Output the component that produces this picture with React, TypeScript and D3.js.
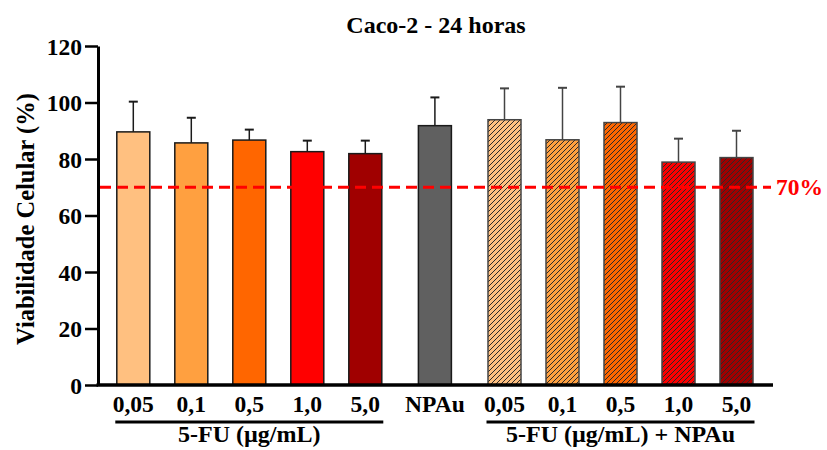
import React, { useEffect, useRef } from "react";
import * as d3 from "d3";

const labels = ["0,05", "0,1", "0,5", "1,0", "5,0", "NPAu", "0,05", "0,1", "0,5", "1,0", "5,0"];
const means = [89.6, 85.7, 86.7, 82.6, 81.9, 91.8, 93.9, 86.8, 92.9, 78.9, 80.5];
const sds = [10.7, 8.9, 3.7, 3.9, 4.6, 10.0, 11.1, 18.4, 12.7, 8.3, 9.5];
const colors = ["#ffc080", "#ffa040", "#ff6600", "#ff0000", "#a00000", "#606060", "#ffc080", "#ffa040", "#ff6600", "#ff0000", "#a00000"];
const hatched = [false, false, false, false, false, false, true, true, true, true, true];
const yTicks = [0, 20, 40, 60, 80, 100, 120];
const groups = [
  { name: "5-FU (µg/mL)", from: 0, to: 4 },
  { name: "5-FU (µg/mL) + NPAu", from: 6, to: 10 },
];
const threshold = 70;

const FONT = "Liberation Serif, Times New Roman, serif";

const App = () => {
  const svgRef = useRef(null);

  useEffect(() => {
    const svg = d3.select(svgRef.current);
    svg.selectAll("*").remove();

    const left = 98;
    const right = 773;
    const top = 46;
    const bottom = 385;
    const barW = 33;

    // slot index with extra gaps around the NPAu bar
    const slot = (i) => i + (i >= 5 ? 0.2 : 0) + (i >= 6 ? 0.2 : 0);
    const x = d3.scaleLinear().domain([0, 10.4]).range([133.3, 736.5]);
    const y = d3.scaleLinear().domain([0, 120]).range([bottom, top]);

    const hs = 5; // hatch spacing
    const defs = svg.append("defs");
    colors.forEach((c, i) => {
      if (!hatched[i]) return;
      const p = defs
        .append("pattern")
        .attr("id", "hatch" + i)
        .attr("patternUnits", "userSpaceOnUse")
        .attr("width", hs)
        .attr("height", hs);
      p.append("rect").attr("width", hs).attr("height", hs).attr("fill", c);
      p.append("path")
        .attr("d", `M-1,1 l2,-2 M0,${hs} l${hs},-${hs} M${hs - 1},${hs + 1} l2,-2`)
        .attr("stroke", "#2a2a2a")
        .attr("stroke-width", 1);
    });

    // title
    svg
      .append("text")
      .attr("x", 436)
      .attr("y", 33)
      .attr("text-anchor", "middle")
      .attr("font-size", 24)
      .text("Caco-2 - 24 horas");

    // y axis label
    svg
      .append("text")
      .attr("transform", `translate(34, 219) rotate(-90)`)
      .attr("text-anchor", "middle")
      .attr("font-size", 24.5)
      .text("Viabilidade Celular (%)");

    // bars
    const bars = svg.append("g");
    means.forEach((m, i) => {
      const cx = x(slot(i));
      const stroke = hatched[i] ? "#444" : "#1a1a1a";
      bars
        .append("line")
        .attr("x1", cx)
        .attr("x2", cx)
        .attr("y1", y(m))
        .attr("y2", y(m + sds[i]))
        .attr("stroke", stroke)
        .attr("stroke-width", 1.5);
      bars
        .append("line")
        .attr("x1", cx - 4.5)
        .attr("x2", cx + 4.5)
        .attr("y1", y(m + sds[i]))
        .attr("y2", y(m + sds[i]))
        .attr("stroke", stroke)
        .attr("stroke-width", 2);
      bars
        .append("rect")
        .attr("x", cx - barW / 2)
        .attr("y", y(m))
        .attr("width", barW)
        .attr("height", y(0) - y(m))
        .attr("fill", hatched[i] ? `url(#hatch${i})` : colors[i])
        .attr("stroke", stroke)
        .attr("stroke-width", 1.5);
    });

    // threshold line
    svg
      .append("line")
      .attr("x1", left + 2)
      .attr("x2", right - 2)
      .attr("y1", y(threshold))
      .attr("y2", y(threshold))
      .attr("stroke", "#ff0000")
      .attr("stroke-width", 3)
      .attr("stroke-dasharray", "11,6");
    svg
      .append("text")
      .attr("x", 776)
      .attr("y", y(threshold) + 8)
      .attr("fill", "#ff0000")
      .attr("font-size", 23.5)
      .text(threshold + "%");

    // y axis
    const yAxis = svg
      .append("g")
      .attr("transform", `translate(${left},0)`)
      .call(
        d3
          .axisLeft(y)
          .tickValues(yTicks)
          .tickSize(13)
          .tickPadding(3)
          .tickSizeOuter(0)
      );
    yAxis.attr("font-family", null).attr("font-size", 23.5);
    yAxis.select(".domain").attr("stroke", "#000").attr("stroke-width", 3);
    yAxis.selectAll(".tick line").attr("stroke", "#000").attr("stroke-width", 2.5);
    yAxis.selectAll(".tick text").attr("fill", "#000").attr("dy", "0.34em");

    // x axis line
    svg
      .append("line")
      .attr("x1", left - 1.5)
      .attr("x2", right)
      .attr("y1", bottom)
      .attr("y2", bottom)
      .attr("stroke", "#000")
      .attr("stroke-width", 3.5);

    // category labels
    svg
      .selectAll(".xlab")
      .data(labels)
      .enter()
      .append("text")
      .attr("class", "xlab")
      .attr("x", (d, i) => x(slot(i)))
      .attr("y", 412)
      .attr("text-anchor", "middle")
      .attr("font-size", 23.5)
      .text((d) => d);

    // group brackets
    groups.forEach((g) => {
      const x1 = x(slot(g.from)) - 18;
      const x2 = x(slot(g.to)) + 18;
      svg
        .append("line")
        .attr("x1", x1)
        .attr("x2", x2)
        .attr("y1", 422)
        .attr("y2", 422)
        .attr("stroke", "#000")
        .attr("stroke-width", 3);
      svg
        .append("text")
        .attr("x", (x1 + x2) / 2)
        .attr("y", 442)
        .attr("text-anchor", "middle")
        .attr("font-size", 24)
        .text(g.name);
    });
  }, []);

  return (
    <svg
      ref={svgRef}
      width={827}
      height={450}
      fontFamily={FONT}
      fontWeight="bold"
      style={{ position: "absolute", left: 0, top: 0, background: "#fff" }}
    />
  );
};

export default App;
